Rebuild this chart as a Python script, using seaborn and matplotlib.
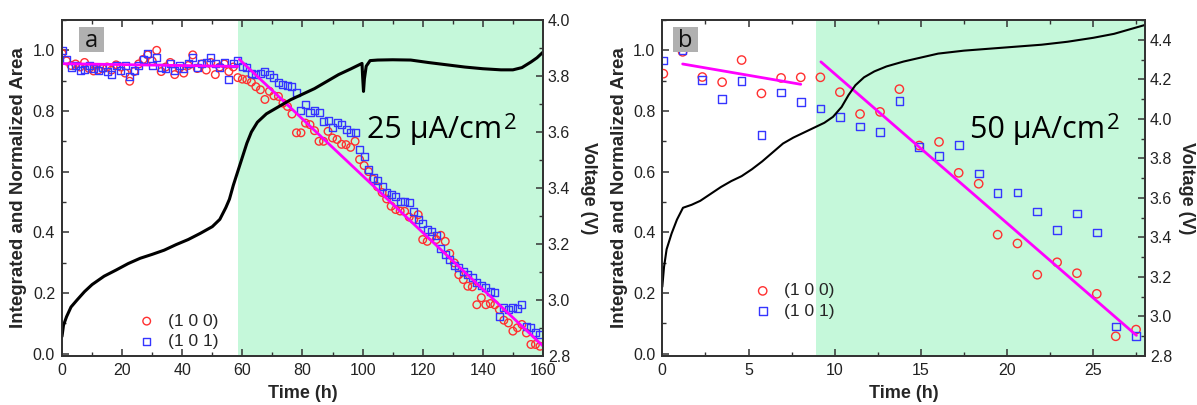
import numpy as np
import pandas as pd
import matplotlib
matplotlib.use("Agg")
import matplotlib.pyplot as plt
from matplotlib.patches import Rectangle
from matplotlib.ticker import MultipleLocator
import seaborn as sns

# ---------------- panel a : 25 uA/cm2 ----------------
time_a = [0, 1.5, 3, 4.5, 6, 7.5, 9, 10.5, 12, 13.5, 15, 16.5, 18, 19.5, 21, 22.5, 24, 25.5,
          27, 28.5, 30, 31.5, 33, 34.5, 36, 37.5, 39, 40.5, 42, 43.5, 45, 46.5, 48, 49.5, 51,
          52.5, 54, 55.5, 57, 58.5, 60, 61.5, 63, 64.5, 66, 67.5, 69, 70.5, 72, 73.5, 75, 76.5,
          78, 79.5, 81, 82.5, 84, 85.5, 87, 88.5, 90, 91.5, 93, 94.5, 96, 97.5, 99, 100.5, 102,
          103.5, 105, 106.5, 108, 109.5, 111, 112.5, 114, 115.5, 117, 118.5, 120, 121.5, 123,
          124.5, 126, 127.5, 129, 130.5, 132, 133.5, 135, 136.5, 138, 139.5, 141, 142.5, 144,
          145.5, 147, 148.5, 150, 151.5, 153, 154.5, 156, 157.5, 159]

area100_a = [0.990, 0.965, 0.950, 0.955, 0.945, 0.960, 0.940, 0.932, 0.935, 0.940, 0.945, 0.935,
             0.952, 0.945, 0.925, 0.898, 0.930, 0.955, 0.970, 0.985, 0.965, 1.000, 0.930, 0.945,
             0.960, 0.920, 0.940, 0.925, 0.950, 0.985, 0.940, 0.955, 0.935, 0.960, 0.920, 0.945,
             0.955, 0.930, 0.945, 0.910,
             0.905, 0.903, 0.895, 0.880, 0.870, 0.838, 0.865, 0.850, 0.848, 0.826, 0.815, 0.790,
             0.728, 0.728, 0.760, 0.755, 0.735, 0.700, 0.700, 0.733, 0.711, 0.706, 0.690, 0.689,
             0.680, 0.700, 0.640, 0.620, 0.600, 0.575, 0.550, 0.531, 0.510, 0.486, 0.475, 0.470,
             0.469, 0.450, 0.442, 0.458, 0.376, 0.370, 0.385, 0.376, 0.390, 0.370, 0.330, 0.299,
             0.260, 0.244, 0.222, 0.220, 0.161, 0.184, 0.161, 0.165, 0.161, 0.145, 0.110, 0.101,
             0.074, 0.085, 0.096, 0.068, 0.030, 0.030, 0.024]

area101_a = [1.000, 0.970, 0.942, 0.950, 0.935, 0.936, 0.950, 0.940, 0.935, 0.945, 0.931, 0.920,
             0.950, 0.935, 0.950, 0.914, 0.935, 0.950, 0.969, 0.991, 0.950, 0.975, 0.945, 0.940,
             0.955, 0.935, 0.950, 0.940, 0.955, 0.975, 0.945, 0.955, 0.960, 0.975, 0.955, 0.945,
             0.960, 0.903, 0.955, 0.965,
             0.947, 0.942, 0.925, 0.920, 0.925, 0.931, 0.920, 0.909, 0.895, 0.887, 0.885, 0.881,
             0.860, 0.800, 0.821, 0.794, 0.800, 0.794, 0.766, 0.770, 0.744, 0.761, 0.755, 0.739,
             0.728, 0.728, 0.673, 0.651, 0.607, 0.579, 0.570, 0.552, 0.530, 0.525, 0.519, 0.502,
             0.500, 0.497, 0.469, 0.442, 0.430, 0.409, 0.403, 0.390, 0.348, 0.326, 0.310, 0.290,
             0.283, 0.271, 0.260, 0.250, 0.233, 0.225, 0.217, 0.205, 0.200, 0.123, 0.151, 0.145,
             0.151, 0.150, 0.161, 0.090, 0.085, 0.068, 0.063]

volt_time_a = [0, 0.5, 1.5, 3, 5, 7.5, 10, 14, 18, 22, 26, 30, 34, 38, 42, 46, 50, 52.5, 54.5,
               55.7, 57, 58.5, 60, 61.5, 63, 65, 68, 72, 76, 80, 84, 88, 92, 96, 99.8, 100.0,
               100.3, 100.6, 101.2, 102.5, 105, 110, 116, 122, 128, 134, 140, 146, 150, 153,
               156, 158, 160]
voltage_a = [2.87, 2.91, 2.94, 2.975, 3.0, 3.03, 3.055, 3.085, 3.107, 3.13, 3.149, 3.163, 3.178,
             3.198, 3.216, 3.238, 3.262, 3.288, 3.33, 3.36, 3.41, 3.46, 3.51, 3.56, 3.60, 3.635,
             3.665, 3.69, 3.715, 3.735, 3.755, 3.78, 3.805, 3.825, 3.845, 3.80, 3.745, 3.79,
             3.835, 3.855, 3.857, 3.858, 3.857, 3.848, 3.84, 3.832, 3.826, 3.822, 3.822, 3.83,
             3.85, 3.865, 3.885]

fit_flat_a_t = [0.3, 58.5]
fit_flat_a_v = [0.956, 0.947]
fit_drop_a_t = [59.0, 160.0]
fit_drop_a_v = [0.970, 0.025]
shade_a = [58.7, 160]

# ---------------- panel b : 50 uA/cm2 ----------------
time_b = [0.06, 1.18, 2.32, 3.47, 4.6, 5.75, 6.89, 8.03, 9.17, 10.3, 11.47, 12.63, 13.75,
          14.9, 16.05, 17.19, 18.35, 19.45, 20.6, 21.75, 22.9, 24.05, 25.2, 26.3, 27.48]
area100_b = [0.923, 0.995, 0.912, 0.895, 0.968, 0.858, 0.909, 0.911, 0.911, 0.862, 0.790,
             0.797, 0.872, 0.686, 0.698, 0.596, 0.560, 0.392, 0.363, 0.260, 0.301, 0.265,
             0.197, 0.057, 0.079]
area101_b = [0.966, 1.000, 0.903, 0.839, 0.898, 0.721, 0.861, 0.830, 0.808, 0.781, 0.749,
             0.730, 0.833, 0.681, 0.651, 0.687, 0.594, 0.529, 0.531, 0.469, 0.407, 0.462,
             0.399, 0.089, 0.057]

volt_time_b = [0, 0.1, 0.25, 0.54, 0.85, 1.2, 1.7, 2.2, 2.8, 3.4, 4.0, 4.6, 5.2, 5.8, 6.4, 7.0,
               7.6, 8.2, 8.8, 9.4, 9.9, 10.4, 10.8, 11.2, 11.7, 12.3, 13.0, 14, 15, 16, 17.5,
               19, 20.5, 22, 23.5, 25, 26.2, 27, 28]
voltage_b = [3.15, 3.25, 3.34, 3.42, 3.49, 3.55, 3.565, 3.585, 3.62, 3.655, 3.685, 3.71, 3.745,
             3.785, 3.83, 3.875, 3.905, 3.93, 3.955, 3.98, 4.01, 4.06, 4.12, 4.17, 4.21, 4.24,
             4.265, 4.29, 4.31, 4.33, 4.345, 4.355, 4.365, 4.375, 4.39, 4.41, 4.43, 4.45, 4.475]

fit_flat_b_t = [1.18, 8.03]
fit_flat_b_v = [0.955, 0.888]
fit_drop_b_t = [9.2, 27.5]
fit_drop_b_v = [0.962, 0.060]
shade_b = [8.9, 28]

series_labels = ["(1 0 0)", "(1 0 1)"]

# ---------------- style ----------------
sns.set_theme(style="ticks")
plt.rcParams["font.family"] = ["Liberation Sans", "DejaVu Sans"]
plt.rcParams["axes.edgecolor"] = "#333333"
plt.rcParams["axes.linewidth"] = 1.3

RED = "#ff3030"
BLUE = "#3535ff"
MAGENTA = "#ff00ff"
MINT = "#c5f8da"
TICK_COLOR = "#222222"
BIG_FONT = ["Open Sans", "DejaVu Sans"]

fig = plt.figure(figsize=(11.97, 4.05), dpi=100)
ax_a = fig.add_axes([0.0518, 0.121, 0.4018, 0.8296])
ax_b = fig.add_axes([0.5533, 0.121, 0.4033, 0.8296])


def style_axis(ax, which_y_minor, x_major, x_minor):
    ax.xaxis.set_major_locator(MultipleLocator(x_major))
    ax.xaxis.set_minor_locator(MultipleLocator(x_minor))
    ax.yaxis.set_minor_locator(MultipleLocator(which_y_minor))
    ax.tick_params(axis="both", which="both", direction="in", top=True, right=False,
                   colors="#333333", labelcolor=TICK_COLOR, labelsize=11.5)
    ax.tick_params(which="major", length=5, width=1.1, pad=5)
    ax.tick_params(which="minor", length=3, width=1.0)


def draw_panel(ax, t, a100, a101, ft1, fv1, ft2, fv2, shade, vt, vv,
               xlim, vlim, vmajor, xmajor, xminor, letter, letter_box, text, text_xy,
               legend_anchor, volt_lw, msize, ylab_x, vlab_x):
    ax.axvspan(shade[0], shade[1], color=MINT, lw=0, zorder=0)
    df = pd.DataFrame({"t": t, "a100": a100, "a101": a101})
    sns.scatterplot(data=df, x="t", y="a100", marker="o", s=msize, facecolor="none",
                    edgecolor=RED, linewidth=1.0, ax=ax, label=series_labels[0], zorder=3)
    sns.scatterplot(data=df, x="t", y="a101", marker="s", s=msize * 0.85, facecolor="none",
                    edgecolor=BLUE, linewidth=1.0, ax=ax, label=series_labels[1], zorder=3)
    sns.lineplot(x=ft1, y=fv1, color=MAGENTA, lw=2.0, ax=ax, zorder=4)
    sns.lineplot(x=ft2, y=fv2, color=MAGENTA, lw=2.0, ax=ax, zorder=4)

    ax.set_xlim(*xlim)
    ax.set_ylim(-0.008, 1.1)
    ax.set_yticks([0.0, 0.2, 0.4, 0.6, 0.8, 1.0])
    style_axis(ax, 0.1, xmajor, xminor)
    ax.set_xlabel("Time (h)", fontsize=13, fontweight="bold")
    ax.set_ylabel("Integrated and Normalized Area", fontsize=13.5, fontweight="bold")
    ax.xaxis.set_label_coords(0.5, -0.085)
    ax.yaxis.set_label_coords(ylab_x, 0.5)

    ax.legend(loc="lower left", bbox_to_anchor=legend_anchor, frameon=False,
              fontsize=12.5, handletextpad=0.6, labelspacing=0.3, borderaxespad=0,
              handlelength=1.2)

    ax.add_patch(Rectangle((letter_box[0], letter_box[1]), letter_box[2], letter_box[3],
                           transform=ax.transAxes, facecolor="#b0b0b0", edgecolor="none",
                           zorder=5))
    ax.text(letter_box[0] + letter_box[2] / 2, letter_box[1] + letter_box[3] / 2 - 0.004,
            letter, transform=ax.transAxes, ha="center", va="center", fontsize=17,
            family=BIG_FONT, color="#111111", zorder=6)

    axv = ax.twinx()
    sns.lineplot(x=vt, y=vv, color="black", lw=volt_lw, ax=axv, sort=False)
    axv.set_ylim(*vlim)
    axv.yaxis.set_major_locator(MultipleLocator(vmajor))
    axv.yaxis.set_minor_locator(MultipleLocator(0.1))
    axv.tick_params(axis="y", which="both", direction="in", right=True, left=False,
                    colors="#333333", labelcolor=TICK_COLOR, labelsize=11.5)
    axv.tick_params(which="major", length=5, width=1.1, pad=3.5)
    axv.tick_params(which="minor", length=3, width=1.0)
    axv.set_ylabel("Voltage (V)", fontsize=13, fontweight="bold", rotation=270)
    axv.yaxis.set_label_coords(vlab_x, 0.5)
    axv.grid(False)
    ax.grid(False)

    main = ax.text(text_xy[0], text_xy[1], text, fontsize=22, family=BIG_FONT,
                   ha="left", va="baseline", color="black", zorder=6)
    axv.annotate("2", xy=(1.0, 1.0), xycoords=main, xytext=(1, 1), textcoords="offset points",
                 ha="left", va="top", fontsize=16, family=BIG_FONT, color="black")
    return axv


axv_a = draw_panel(ax_a, time_a, area100_a, area101_a, fit_flat_a_t, fit_flat_a_v,
                   fit_drop_a_t, fit_drop_a_v, shade_a, volt_time_a, voltage_a,
                   (0, 160), (2.8, 4.0), 0.2, 20, 10, "a", (0.0353, 0.904, 0.052, 0.076),
                   "25 \u00b5A/cm", (101.6, 0.712), (0.14, 0.0), 2.2, 30, -0.072, 1.112)
axv_a.set_yticks([2.8, 3.0, 3.2, 3.4, 3.6, 3.8, 4.0])

axv_b = draw_panel(ax_b, time_b, area100_b, area101_b, fit_flat_b_t, fit_flat_b_v,
                   fit_drop_b_t, fit_drop_b_v, shade_b, volt_time_b, voltage_b,
                   (0, 28), (2.8, 4.5), 0.2, 5, 2.5, "b", (0.0215, 0.904, 0.053, 0.076),
                   "50 \u00b5A/cm", (17.85, 0.712), (0.172, 0.09), 1.5, 36, -0.072, 1.104)
axv_b.set_yticks([2.8, 3.0, 3.2, 3.4, 3.6, 3.8, 4.0, 4.2, 4.4])

fig.savefig("out.png", dpi=100)
